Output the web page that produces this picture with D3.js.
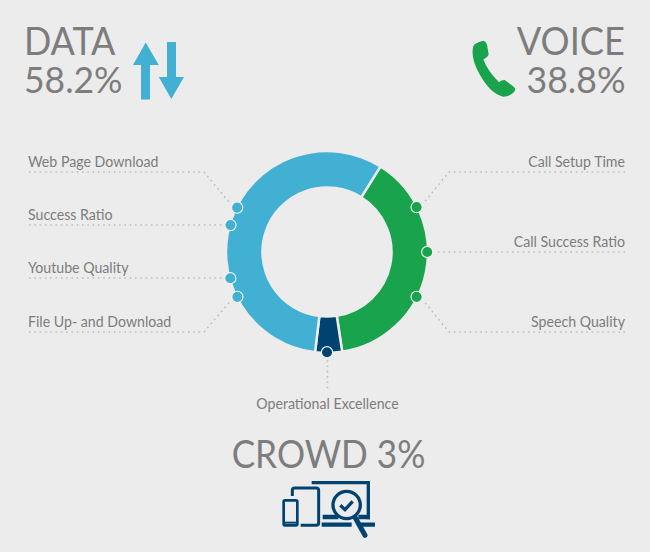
<!DOCTYPE html>
<html><head><meta charset="utf-8">
<script src="https://cdn.jsdelivr.net/npm/d3@7/dist/d3.min.js"></script>
<style>html,body{margin:0;padding:0;background:#ececec}svg{display:block}text{font-family:Lato,"Open Sans",sans-serif;fill:#7d7d7d}</style>
</head><body><div id="chart"></div>
<script>
const categories=["DATA","VOICE","CROWD"];
const shareLabels=["58.2%","38.8%","3%"];
// Ring sizes as drawn in the picture (the crowd slice is drawn wider than its 3% label)
const ringValues=[57.0,38.7,4.3];
const colors=["#41b0d3","#18a34c","#004370"];
const metricNames=["Web Page Download","Success Ratio","Youtube Quality","File Up- and Download","Call Setup Time","Call Success Ratio","Speech Quality","Operational Excellence"];
const metricAngles=[296.3,285.6,254.8,243.4,63.4,90,116.6,180];
const metricGroups=[0,0,0,0,1,1,1,2];

const W=650,H=552,cx=327,cy=252,R=101,r=64.5,bg="#ececec";
const svg=d3.select("#chart").append("svg").attr("width",W).attr("height",H).attr("viewBox",`0 0 ${W} ${H}`);
svg.append("rect").attr("width",W).attr("height",H).attr("fill",bg);

const rad=d=>d*Math.PI/180;
const pie=d3.pie().sort(null).value(d=>d.v).startAngle(rad(32)).endAngle(rad(392));
const slices=pie([1,2,0].map(i=>({v:ringValues[i],c:colors[i]})));
const arc=d3.arc().innerRadius(r).outerRadius(R);
const ring=svg.append("g").attr("transform",`translate(${cx},${cy})`);
ring.selectAll("path").data(slices).join("path").attr("d",arc).attr("fill",d=>d.data.c).attr("stroke",bg).attr("stroke-width",2.5);

const pt=(a,rr)=>[cx+rr*Math.sin(rad(a)),cy-rr*Math.cos(rad(a))];
const rows=[172,225,278,332,172,252,332];
const fit=(t,k)=>{const n=t.node(),l=n.getComputedTextLength();t.attr("textLength",l*k).attr("lengthAdjust","spacingAndGlyphs");return t;};
const leaders=svg.append("g").attr("fill","none").attr("stroke","#bdbdbd").attr("stroke-width",1.6).attr("stroke-dasharray","1.6 3.7");
const line=d3.line();
metricNames.forEach((n,i)=>{
  const a=metricAngles[i],p=pt(a,100.2),c=colors[metricGroups[i]];
  let pts;
  if(i===7) pts=[[p[0]+.5,p[1]+8],[p[0]+.5,392]];
  else{
    const y=rows[i],e=a<180?625:29,dir=a<180?1:-1;
    if(i===1||i===2||i===5) pts=[[e,y],[p[0]+dir*8,y]];
    else pts=[[e,y],[a<180?449:204,y],pt(a,R+6)];
  }
  leaders.append("path").attr("d",line(pts));
  svg.append("circle").attr("cx",p[0]).attr("cy",p[1]).attr("r",5.6).attr("fill",c).attr("stroke","#f5f5f5").attr("stroke-width",1.1);
  const t=svg.append("text").attr("font-size",14.6).text(n);
  if(i===7) t.attr("x",327.5).attr("y",409).attr("text-anchor","middle");
  else if(a<180) t.attr("x",625).attr("y",rows[i]-5).attr("text-anchor","end");
  else t.attr("x",28).attr("y",rows[i]-5);
  fit(t,.97);
});

const big=(s,x,y,size,anchor,k)=>fit(svg.append("text").attr("x",x).attr("y",y).attr("font-size",size).attr("text-anchor",anchor).text(s),k);
big(categories[0],24,55,38,"start",.945);
big(shareLabels[0],24,93,36,"start",.985);
big(categories[1],625,55,38,"end",.955);
big(shareLabels[1],625.5,93,36,"end",.99);
big(`${categories[2]} ${shareLabels[2]}`,328.5,468,38,"middle",.925);

svg.append("path").attr("fill",colors[0]).attr("d","M145.7 42.5L158.8 65H150V99.5H141V65H133Z");
svg.append("path").attr("fill",colors[0]).attr("d","M167 42H176V77H184L171.3 99L158.8 77H167Z");
svg.append("path").attr("fill",colors[1]).attr("transform","translate(440,0) scale(.3333)")
 .attr("d","M100 138Q106 127 130 122Q138 124 141 134L146 163Q144 172 130 178Q142 212 177 247Q184 240 194 240L222 261Q229 268 222 276Q210 290 190 290Q152 282 120 225Q95 182 98 150Z");
const dev=svg.append("g").attr("transform","translate(210,430) scale(.3333)").attr("fill","none").attr("stroke",colors[2]);
dev.append("path").attr("stroke-width",10).attr("d","M305 158H475V268");
dev.append("path").attr("stroke-width",14).attr("d","M338 261H385M445 261H480");
dev.append("path").attr("stroke-width",13).attr("d","M335 284H425M450 284H495");
dev.append("path").attr("stroke-width",9).attr("d","M247 198V181Q247 174 254 174H319Q326 174 326 181V279Q326 286 319 286H272");
dev.append("rect").attr("x",221).attr("y",211).attr("width",41).attr("height",75).attr("rx",4).attr("stroke-width",8);
dev.append("path").attr("stroke-width",6).attr("d","M221 278H262");
dev.append("circle").attr("cx",410).attr("cy",225).attr("r",41).attr("stroke-width",10).attr("fill",bg);
dev.append("path").attr("stroke-width",15).attr("stroke-linecap","round").attr("d","M435 262L465 316");
dev.append("path").attr("stroke-width",10).attr("d","M391 226L405 239L428 214");
</script></body></html>
